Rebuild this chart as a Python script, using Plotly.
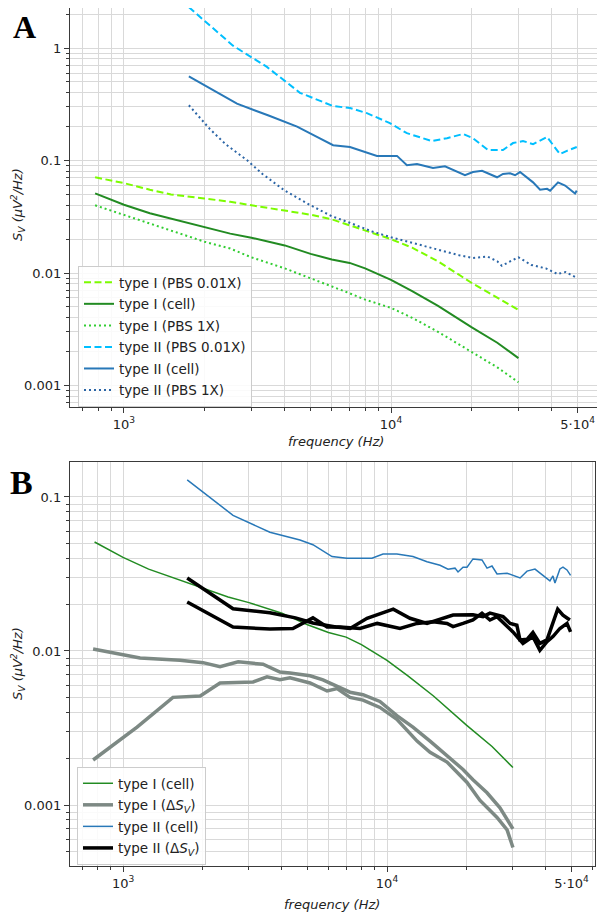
import plotly.graph_objects as go

# ---------------- data (panel A) ----------------
f_typeI = [780, 1000, 1250, 1500, 2000, 2500, 3000, 4000, 5000, 6000, 7000, 8000,
           10000, 12000, 15000, 20000, 25000, 30000]
typeI_pbs001 = [0.071, 0.063, 0.055, 0.050, 0.046, 0.043, 0.040, 0.036, 0.033, 0.030,
                0.0265, 0.024, 0.020, 0.0168, 0.0127, 0.0082, 0.0060, 0.0047]
typeI_cell = [0.051, 0.0405, 0.034, 0.0305, 0.0257, 0.0224, 0.0206, 0.0176, 0.0148, 0.0132,
              0.0123, 0.011, 0.0087, 0.0069, 0.0051, 0.0033, 0.0024, 0.00175]
typeI_pbs1 = [0.040, 0.033, 0.0275, 0.024, 0.019, 0.0165, 0.0138, 0.011, 0.0089, 0.0076,
              0.0066, 0.0058, 0.0049, 0.0040, 0.0030, 0.0020, 0.00145, 0.00107]

f_typeII_pbs001 = [1750, 2560, 3430, 4560, 6070, 7020, 8120, 9900, 11470, 12830, 14240, 16200,
                   18610, 20270, 23090, 26250, 28630, 31200, 34030, 38400, 42900, 45560, 49600]
typeII_pbs001 = [2.31, 1.05, 0.68, 0.40, 0.305, 0.293, 0.264, 0.215, 0.175, 0.162, 0.149, 0.158,
                 0.172, 0.158, 0.124, 0.124, 0.143, 0.149, 0.140, 0.162, 0.114, 0.122, 0.132]

f_typeII_cell = [1750, 2650, 3500, 4450, 5280, 6070, 7020, 8860, 10530, 11470, 12510, 14360,
                 15920, 18920, 20270, 21920, 24950, 26250, 27910, 29140, 30410, 34030, 36150,
                 38400, 39420, 42200, 44860, 46790, 48870, 49600]
typeII_cell = [0.56, 0.32, 0.25, 0.20, 0.162, 0.137, 0.132, 0.110, 0.110, 0.091, 0.093, 0.086,
               0.089, 0.074, 0.079, 0.081, 0.071, 0.076, 0.077, 0.074, 0.079, 0.064, 0.055,
               0.056, 0.054, 0.064, 0.060, 0.055, 0.051, 0.054]

f_typeII_pbs1 = [1750, 2100, 2400, 2900, 3300, 4000, 5000, 6000, 7000, 8500, 10000, 12500, 15000,
                 18000, 20300, 23000, 25000, 26000, 28500, 30000, 33500, 38000, 42000, 45000, 49000]
typeII_pbs1 = [0.31, 0.19, 0.14, 0.10, 0.076, 0.054, 0.040, 0.032, 0.028, 0.0234, 0.0208, 0.018,
               0.016, 0.0144, 0.0136, 0.014, 0.0127, 0.0116, 0.013, 0.0138, 0.0118, 0.011,
               0.0098, 0.0102, 0.0092]

# ---------------- data (panel B) ----------------
f_B_typeII_cell = [1750, 2610, 3600, 4680, 5240, 6190, 7050, 8770, 9660, 10900, 12540, 14180,
                   15880, 17030, 18100, 18580, 19410, 20100, 21170, 22900, 23930, 24990, 26110,
                   28510, 31930, 33920, 36360, 40370, 41420, 42520, 43280, 45190, 46420, 48070,
                   49600]
B_typeII_cell = [0.129, 0.076, 0.059, 0.0526, 0.049, 0.041, 0.040, 0.040, 0.0426, 0.0426, 0.041,
                 0.038, 0.036, 0.034, 0.0345, 0.0326, 0.035, 0.035, 0.0396, 0.039, 0.0345, 0.0356,
                 0.0316, 0.032, 0.0298, 0.033, 0.034, 0.0298, 0.0285, 0.0307, 0.0276, 0.0341,
                 0.035, 0.0336, 0.031]

f_dS_I_a = [770, 917, 1160, 1643, 2010, 2330, 2730, 3390, 3930, 4290, 5110, 5720, 6300, 7240,
            8110, 9400, 10900, 12540, 14560, 16880, 19410, 21170, 23930, 26790, 30000]
dS_I_a = [0.0103, 0.0097, 0.0090, 0.0087, 0.0084, 0.0079, 0.0085, 0.0082, 0.0073, 0.0072,
          0.0069, 0.0065, 0.0060, 0.0054, 0.0052, 0.0047, 0.0038, 0.0032, 0.0026, 0.0021,
          0.0017, 0.00146, 0.0012, 0.00096, 0.0007]
f_dS_I_b = [770, 1130, 1545, 1960, 2330, 3110, 3510, 3930, 4290, 5110, 5930, 6470, 7240, 8110,
            9400, 10900, 13000, 14560, 16880, 20100, 22510, 26110, 28510, 30000]
dS_I_b = [0.00196, 0.0032, 0.0050, 0.0051, 0.0062, 0.0063, 0.0068, 0.0065, 0.0067, 0.0062,
          0.0055, 0.0057, 0.0050, 0.0048, 0.0043, 0.0036, 0.0026, 0.0022, 0.0019, 0.0014,
          0.00107, 0.00083, 0.00069, 0.00053]

f_dS_II_a = [1750, 2610, 3600, 4500, 5240, 6400, 7250, 8400, 10560, 12220, 14180, 16320, 17800,
             21170, 23110, 24550, 27530, 29280, 31040, 31890, 33920, 35710, 37950, 40370, 42520,
             44330, 46420, 49300]
dS_II_a = [0.0298, 0.0188, 0.0177, 0.0164, 0.0152, 0.0143, 0.0140, 0.0163, 0.0187, 0.0163,
           0.0151, 0.0163, 0.0171, 0.0172, 0.0167, 0.0176, 0.0167, 0.0151, 0.0147, 0.0118,
           0.0119, 0.0132, 0.0112, 0.0118, 0.0151, 0.0187, 0.0171, 0.0159]
f_dS_II_b = [1750, 2610, 3600, 4400, 5240, 5930, 6640, 7900, 9180, 11200, 13000, 14960, 16880,
             17800, 19410, 21170, 22900, 24550, 26110, 28510, 30000, 32740, 35710, 37950, 40370,
             42520, 45190, 48070, 49600]
dS_II_b = [0.0208, 0.0143, 0.0139, 0.014, 0.0164, 0.0143, 0.0143, 0.0140, 0.0151, 0.0140,
           0.0151, 0.0155, 0.0151, 0.0144, 0.0151, 0.0159, 0.0176, 0.0159, 0.0167, 0.0144,
           0.0133, 0.0112, 0.0124, 0.0101, 0.0115, 0.0124, 0.0140, 0.0151, 0.0133]

x_tickvals = [1000, 10000, 50000]
x_ticktext = ["10<sup>3</sup>", "10<sup>4</sup>", "5·10<sup>4</sup>"]
yA_tickvals = [0.001, 0.01, 0.1, 1]
yA_ticktext = ["0.001", "0.01", "0.1", "1"]
yB_tickvals = [0.001, 0.01, 0.1]
yB_ticktext = ["0.001", "0.01", "0.1"]

# ---------------- figure ----------------
# the page body has an 8px margin, so the figure is 8px smaller and offset
OFF = 8
W, H = 605 - OFF, 915 - OFF


def px(x):
    return (x - OFF) / W


def py(y):
    return min(1.0, max(0.0, 1 - (y - OFF) / H))


FONT = "DejaVu Sans"
c_lime = "#7CFC00"
c_green = "#228B22"
c_lgreen = "#32CD32"
c_sky = "#00BFFF"
c_blue = "#2878b8"
c_dblue = "#2b65a6"
c_gray = "#7d8984"

fig = go.Figure()


def add(x, y, name, color, width, group, dash="solid", xa="x", ya="y", legend="legend", show=True):
    fig.add_trace(go.Scatter(x=x, y=y, mode="lines", name=name,
                             line=dict(color=color, width=width, dash=dash),
                             xaxis=xa, yaxis=ya, legend=legend, showlegend=show,
                             legendgroup=group))


DASH = "7px,3.5px"
DOT = "2px,3px"
add(f_typeI, typeI_pbs001, "type I (PBS 0.01X)", c_lime, 2, "a1", DASH)
add(f_typeI, typeI_cell, "type I (cell)", c_green, 2, "a2")
add(f_typeI, typeI_pbs1, "type I (PBS 1X)", c_lgreen, 2, "a3", DOT)
add(f_typeII_pbs001, typeII_pbs001, "type II (PBS 0.01X)", c_sky, 2, "a4", DASH)
add(f_typeII_cell, typeII_cell, "type II (cell)", c_blue, 2, "a5")
add(f_typeII_pbs1, typeII_pbs1, "type II (PBS 1X)", c_dblue, 2, "a6", DOT)

B = dict(xa="x2", ya="y2", legend="legend2")
add(f_typeI, typeI_cell, "type I (cell)", c_green, 1.5, "b1", **B)
add(f_dS_I_a, dS_I_a, "type I (Δ<i>S<sub>V</sub></i>)", c_gray, 3.5, "b2", **B)
add(f_dS_I_b, dS_I_b, "type I dS b", c_gray, 3.5, "b2", show=False, **B)
add(f_B_typeII_cell, B_typeII_cell, "type II (cell)", c_blue, 1.5, "b3", **B)
add(f_dS_II_a, dS_II_a, "type II (Δ<i>S<sub>V</sub></i>)", "#000000", 3.5, "b4", **B)
add(f_dS_II_b, dS_II_b, "type II dS b", "#000000", 3.5, "b4", show=False, **B)


def minor_vals(lo_exp, hi_exp):
    vals = []
    for e in range(lo_exp, hi_exp + 1):
        for m in range(2, 10):
            vals.append(m * 10 ** e)
    return vals


GRID = "#d9d9d9"
AXLINE = "#3a3a3a"
tickfont = dict(family=FONT, size=13, color="#222222")


def xaxis(domain, rng, anchor):
    return dict(type="log", domain=domain, range=rng, anchor=anchor,
                tickvals=x_tickvals, ticktext=x_ticktext, tickfont=tickfont,
                ticks="outside", ticklen=5, tickcolor=AXLINE, tickwidth=1,
                showgrid=True, gridcolor=GRID, gridwidth=1.2,
                showline=True, linecolor=AXLINE, linewidth=1.3, mirror=True,
                zeroline=False,
                minor=dict(tickvals=[v for v in minor_vals(2, 4) if v != 50000],
                           ticks="outside", ticklen=3, tickcolor=AXLINE,
                           showgrid=True, gridcolor=GRID, gridwidth=1.2))


def yaxis(domain, rng, anchor, tv, tt):
    return dict(type="log", domain=domain, range=rng, anchor=anchor,
                tickvals=tv, ticktext=tt, tickfont=tickfont,
                ticks="outside", ticklen=5, tickcolor=AXLINE, tickwidth=1,
                showgrid=True, gridcolor=GRID, gridwidth=1.2,
                showline=True, linecolor=AXLINE, linewidth=1.3, mirror=True,
                zeroline=False,
                minor=dict(tickvals=minor_vals(-4, 0),
                           ticks="outside", ticklen=3, tickcolor=AXLINE,
                           showgrid=True, gridcolor=GRID, gridwidth=1.2))


legend_style = dict(xanchor="left", yanchor="top", traceorder="grouped",
                    bgcolor="rgba(255,255,255,0.85)", bordercolor="#cccccc", borderwidth=1,
                    font=dict(family=FONT, size=13.5, color="#222222"), tracegroupgap=1)

# panel A's frame starts 3px from the window top (above the figure area), so the
# visible range is clipped at the figure's top edge (window y = 8 -> log S = 0.356)
fig.update_layout(
    width=W, height=H,
    margin=dict(l=0, r=0, t=0, b=0),
    paper_bgcolor="white", plot_bgcolor="white",
    font=dict(family=FONT, size=13, color="#222222"),
    xaxis=xaxis([px(70), px(602)], [2.798, 4.790], "y"),
    yaxis=yaxis([py(407), 1.0], [-3.191, 0.356], "x", yA_tickvals, yA_ticktext),
    xaxis2=xaxis([px(70), px(595)], [2.799, 4.788], "y2"),
    yaxis2=yaxis([py(866), py(462)], [-3.396, -0.773], "x2", yB_tickvals, yB_ticktext),
    legend=dict(x=px(78), y=py(266), **legend_style),
    legend2=dict(x=px(77), y=py(767), **legend_style),
)

ytitle = "<i>S<sub>V</sub> (μV<sup>2</sup>/Hz)</i>"
xtitle = "<i>frequency (Hz)</i>"
ann = [
    dict(text=ytitle, x=px(18), y=py(205), textangle=-90),
    dict(text=ytitle, x=px(18), y=py(664), textangle=-90),
    dict(text=xtitle, x=px(336), y=py(441)),
    dict(text=xtitle, x=px(332), y=py(904)),
]
for a in ann:
    fig.add_annotation(xref="paper", yref="paper", showarrow=False,
                       xanchor="center", yanchor="middle",
                       font=dict(family=FONT, size=13, color="#222222"), **a)

fig.add_annotation(text="<b>A</b>", xref="paper", yref="paper", x=px(24), y=py(27),
                   showarrow=False, xanchor="center", yanchor="middle",
                   font=dict(family="Liberation Serif", size=32, color="#000000"))
fig.add_annotation(text="<b>B</b>", xref="paper", yref="paper", x=px(21), y=py(482),
                   showarrow=False, xanchor="center", yanchor="middle",
                   font=dict(family="Liberation Serif", size=34, color="#000000"))

fig.write_html("out.html")
